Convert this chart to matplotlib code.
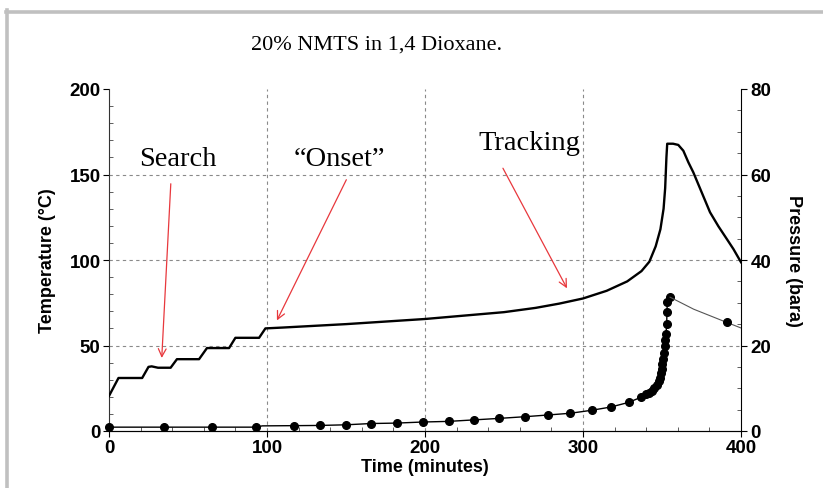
import matplotlib
matplotlib.use("Agg")
import matplotlib.pyplot as plt
from matplotlib.lines import Line2D
from matplotlib.ticker import MultipleLocator

# ---------------- data ----------------
title_text = "20% NMTS in 1,4 Dioxane."
x_label = "Time (minutes)"
y_left_label = "Temperature (°C)"
y_right_label = "Pressure (bara)"

temp_time = [0, 6, 21, 25, 27, 31, 39, 43, 57, 62, 76, 80, 95, 99, 110, 130, 150,
             175, 200, 225, 250, 270, 285, 300, 315, 328, 337, 342, 346, 349, 351,
             352, 352.8, 353.3, 357, 360.3, 363.5, 366.7, 369.8, 375.1, 380.4,
             385.7, 391, 395.2, 400]
temp_c = [20.5, 31, 31, 37.5, 37.8, 37, 37, 42, 42, 48.5, 48.5, 54.5, 54.5, 60, 60.5,
          61.5, 62.5, 64, 65.5, 67.5, 69.5, 72, 74.5, 77.5, 82, 87.5, 93.5, 99, 108,
          118, 130, 142, 160, 168, 168, 167.3, 163.9, 157.1, 151.3, 139.6, 127.9,
          119.7, 112.3, 106.4, 98.7]

pres_time = [0, 35, 65, 93, 97, 117, 133.5, 150, 166, 182, 198.5, 215, 231, 247,
             263.5, 278, 292, 305.5, 317.5, 329, 336.7, 339.9, 341.7, 343.5, 345.2,
             346.6, 347.8, 348.7, 349.3, 349.8, 350.3, 350.8, 351.3, 351.9, 352.2,
             352.5, 353.0, 353.1, 353.4, 355.1]
pres_bar = [0.9, 0.9, 0.9, 0.9, 1.2, 1.25, 1.3, 1.45, 1.75, 1.85, 2.1, 2.25, 2.6, 2.95,
            3.35, 3.75, 4.15, 4.85, 5.6, 6.7, 7.9, 8.65, 9.0, 9.45, 10.0, 10.8, 11.6,
            12.5, 13.5, 14.5, 15.6, 16.8, 18.3, 20.0, 21.3, 22.7, 25.0, 27.9, 30.1, 31.3]
pres_marker_idx = [i for i in range(len(pres_time)) if i != 4]

decay_time = [355.1, 370, 391, 400]
decay_bar = [31.3, 28.5, 25.4, 24.1]
decay_marker_idx = [2]

annotations = [
    ("Search", (43.7, 159.5), (39.2, 146.2), (33.3, 41.1)),
    ("\u201cOnset\u201d", (146, 159.5), (151, 148.4), (105.5, 63.2)),
    ("Tracking", (266, 168.5), (248.5, 155.1), (290.7, 82.0)),
]

x_ticks = [0, 100, 200, 300, 400]
y_left_ticks = [0, 50, 100, 150, 200]
y_right_ticks = [0, 20, 40, 60, 80]

# ---------------- figure ----------------
W, H = 823, 489
fig = plt.figure(figsize=(W / 100, H / 100), dpi=100)
fig.patch.set_facecolor("white")

left, right, top, bottom = 109, 741, 90, 432
ax = fig.add_axes([left / W, 1 - bottom / H, (right - left) / W, (bottom - top) / H])
ax2 = ax.twinx()

sans = ["Liberation Sans", "DejaVu Sans"]
serif = ["Liberation Serif", "DejaVu Serif"]

# grid
for gx in [100, 200, 300]:
    ax.axvline(gx, color="#8a8a8a", lw=0.8, ls=(0, (3, 3)), zorder=0)
for gy in [50, 100, 150]:
    ax.axhline(gy, color="#8a8a8a", lw=0.8, ls=(0, (3, 3)), zorder=0)

# temperature
ax.plot(temp_time, temp_c, color="black", lw=1.7, zorder=3)

# pressure
ax2.plot(pres_time, pres_bar, color="black", lw=1.0, marker="o", ms=5.5,
         markevery=pres_marker_idx, clip_on=False, zorder=3)
ax2.plot(decay_time, decay_bar, color="#555555", lw=0.8, marker="o", ms=5.5,
         mfc="black", mec="black", markevery=decay_marker_idx, zorder=3)

ax.set_xlim(0, 400)
ax.set_ylim(0, 200)
ax2.set_ylim(0, 80)

ax.set_xticks(x_ticks)
ax.set_yticks(y_left_ticks)
ax2.set_yticks(y_right_ticks)
ax.xaxis.set_minor_locator(MultipleLocator(20))
ax.yaxis.set_minor_locator(MultipleLocator(10))
ax2.yaxis.set_minor_locator(MultipleLocator(5))

for a in (ax, ax2):
    a.spines["top"].set_visible(False)
    a.tick_params(which="major", length=4, width=0.8, direction="out", colors="black")
    a.tick_params(which="minor", length=3, width=0.6, direction="in", colors="#444444")
ax2.spines["left"].set_visible(False)
ax.spines["right"].set_visible(False)
ax.spines["left"].set_color("#333333")
ax2.spines["right"].set_color("black")
ax.spines["bottom"].set_color("#333333")

for lab in ax.get_xticklabels() + ax.get_yticklabels() + ax2.get_yticklabels():
    lab.set_fontfamily(sans)
    lab.set_fontweight("bold")
    lab.set_fontsize(13.5)
ax.tick_params(axis="x", pad=2)
ax.tick_params(axis="y", pad=2)
ax2.tick_params(axis="y", pad=3)

ax.set_xlabel(x_label, family=sans, fontweight="bold", fontsize=13, labelpad=1)
ax.set_ylabel(y_left_label, family=sans, fontweight="bold", fontsize=13, labelpad=10)
ax2.set_ylabel(y_right_label, family=sans, fontweight="bold", fontsize=13,
               rotation=270, labelpad=22)

# annotations
for text, txy, a_start, a_end in annotations:
    ax.text(txy[0], txy[1], text, family=serif, fontsize=20.5, ha="center",
            va="center", color="black", zorder=5)
    ax.annotate("", xy=a_end, xytext=a_start,
                arrowprops=dict(arrowstyle="->", color="#e8383d", lw=0.9,
                                mutation_scale=14), zorder=5)

# title
fig.text(377 / W, 1 - 45 / H, title_text, family=serif, fontsize=16,
         ha="center", va="center")

# gray frame (top and left)
fig.add_artist(Line2D([5.5 / W, 1.0], [1 - 12.7 / H, 1 - 12.7 / H],
                      color="#c0c0c0", lw=2.6, transform=fig.transFigure))
fig.add_artist(Line2D([7.5 / W, 7.5 / W], [0, 1 - 11 / H],
                      color="#c0c0c0", lw=2.6, transform=fig.transFigure))

fig.savefig("out.png", dpi=100)
